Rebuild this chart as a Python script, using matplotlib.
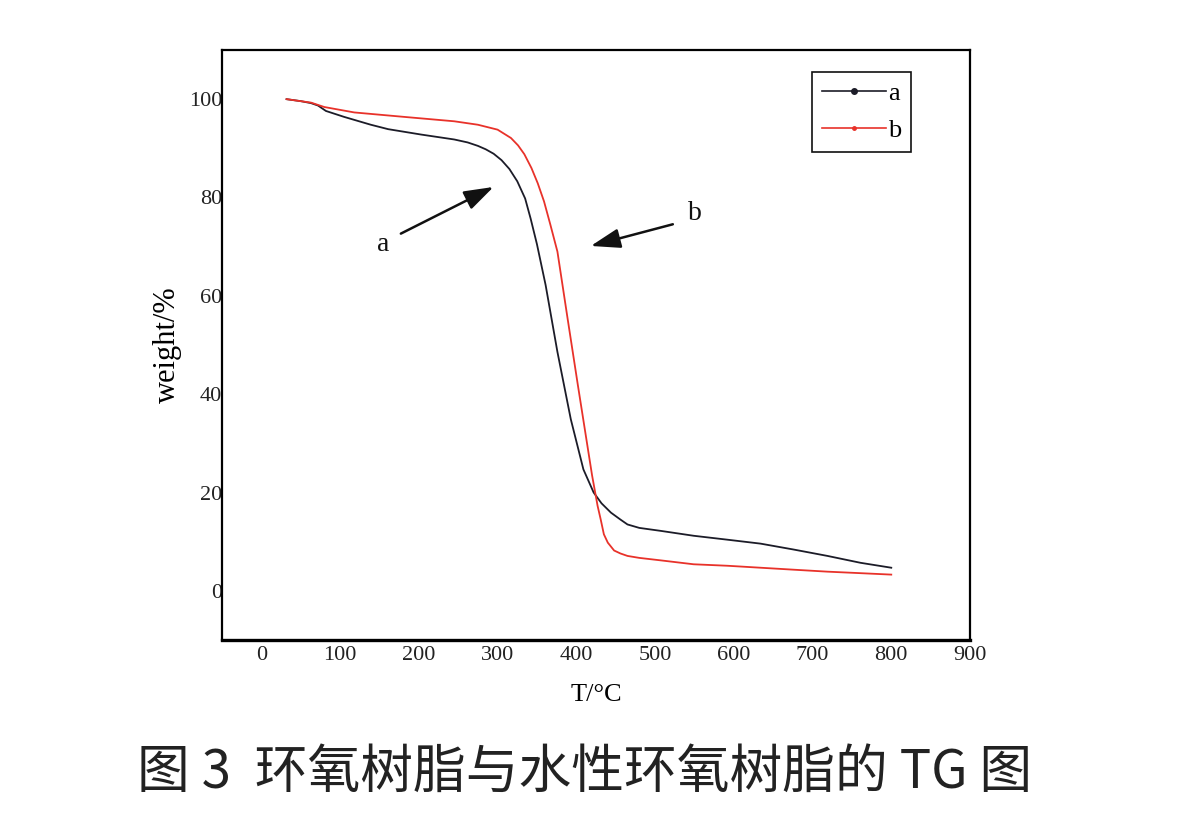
import matplotlib
matplotlib.use("Agg")
import matplotlib.pyplot as plt
from matplotlib.lines import Line2D

# Data (T in °C, weight in %)
a_T = [32, 50, 63, 72, 82, 105, 139, 161, 203, 245, 262, 275, 285, 295, 305, 315, 325, 335, 342, 350, 361,
       376, 393, 409, 422, 432, 444, 456, 465, 480, 507, 549, 592, 634, 676, 719, 761, 800]
a_W = [100, 99.6, 99.2, 98.7, 97.6, 96.4, 94.8, 93.9, 92.8, 91.8, 91.2, 90.5, 89.8, 88.9, 87.6, 85.8, 83.3, 79.8, 75.7, 70.5, 62.2,
       48.6, 34.9, 24.7, 20.0, 17.8, 15.9, 14.5, 13.5, 12.8, 12.2, 11.2, 10.4, 9.6, 8.4, 7.1, 5.7, 4.7]

b_T = [32, 63, 80, 118, 181, 245, 275, 300, 317, 326, 334, 343, 351, 359, 367, 376, 389, 402, 414, 420,
       427, 431, 435, 440, 448, 456, 465, 480, 507, 549, 592, 634, 676, 719, 760, 800]
b_W = [100, 99.3, 98.4, 97.3, 96.4, 95.5, 94.8, 93.8, 92.1, 90.6, 88.8, 86.0, 82.9, 79.2, 74.5, 69.0, 55.3, 41.8, 29.6, 23.5,
       17.3, 14.5, 11.5, 9.8, 8.2, 7.6, 7.1, 6.7, 6.2, 5.4, 5.1, 4.7, 4.3, 3.9, 3.6, 3.3]

x_ticks = [0, 100, 200, 300, 400, 500, 600, 700, 800, 900]
y_ticks = [0, 20, 40, 60, 80, 100]
series_labels = ["a", "b"]
colors = ["#1c1c28", "#e8322a"]
caption = "图 3  环氧树脂与水性环氧树脂的 TG 图"

serif = ["Liberation Serif", "DejaVu Serif"]
plt.rcParams["font.family"] = serif

fig = plt.figure(figsize=(12.04, 8.36), dpi=100)
W, H = 1204, 836
ax = fig.add_axes([222 / W, (H - 640) / H, 748 / W, 590 / H])

ax.plot(a_T, a_W, color=colors[0], lw=1.3, solid_joinstyle="round")
ax.plot(b_T, b_W, color=colors[1], lw=1.3, solid_joinstyle="round")

ax.set_xlim(-50, 900)
ax.set_ylim(-10, 110)
ax.set_xticks(x_ticks)
ax.set_yticks(y_ticks)
ax.tick_params(length=0, labelsize=16, colors="#222222")
ax.tick_params(axis="y", pad=0)
ax.tick_params(axis="x", pad=4)
for s in ["left", "right", "top"]:
    ax.spines[s].set_linewidth(1.6)
ax.spines["bottom"].set_linewidth(2.4)

ax.set_xlabel("T/°C", fontsize=19, labelpad=14)
ax.set_ylabel("weight/%", fontsize=22, labelpad=5)

# annotations
arrow_style = "-|>,head_length=0.9,head_width=0.3"
ax.annotate("", xy=(298, 82.4), xytext=(174, 72.4),
            arrowprops=dict(arrowstyle=arrow_style, color="#111111", lw=1.8, mutation_scale=20))
ax.text(155, 70.4, "a", fontsize=20, ha="center", va="center", color="#111111")
ax.annotate("", xy=(415, 70.0), xytext=(526, 74.7),
            arrowprops=dict(arrowstyle=arrow_style, color="#111111", lw=1.8, mutation_scale=20))
ax.text(551, 76.7, "b", fontsize=20, ha="center", va="center", color="#111111")

handles = [Line2D([], [], color=colors[0], lw=1.2, marker="o", markersize=4),
           Line2D([], [], color=colors[1], lw=1.2, marker="o", markersize=2.5)]
leg = ax.legend(handles, series_labels, loc="upper left", bbox_to_anchor=(0.789, 0.963),
                borderaxespad=0, numpoints=1, handlelength=2.4, handletextpad=0.1,
                labelspacing=0.5, fontsize=19, fancybox=False, edgecolor="#111111",
                framealpha=1, borderpad=0.38)
leg.get_frame().set_linewidth(1.2)

fig.text(585 / W, 1 - 772 / H, caption, fontsize=38, ha="center", va="center",
         family=["Noto Sans CJK SC", "DejaVu Sans"], color="#222222", fontweight="light")

fig.savefig("out.png", dpi=100, facecolor="white")
